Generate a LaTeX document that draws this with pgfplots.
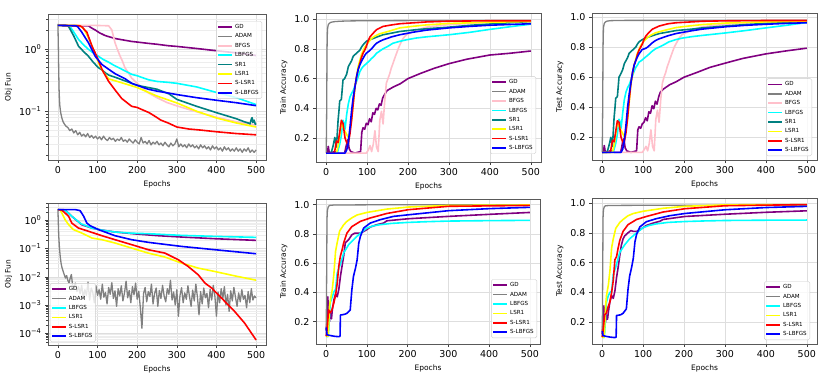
\documentclass[border=0pt]{standalone}
\usepackage{fontspec}
\setmainfont{DejaVu Sans}
\usepackage{pgfplots}
\pgfplotsset{compat=1.18}

\definecolor{cGD}{HTML}{800080}
\definecolor{cADAM}{HTML}{808080}
\definecolor{cBFGS}{HTML}{FFC0CB}
\definecolor{cLBFGS}{HTML}{00FFFF}
\definecolor{cSR1}{HTML}{008080}
\definecolor{cLSR1}{HTML}{FFFF00}
\definecolor{cSLSR1}{HTML}{FF0000}
\definecolor{cSLBFGS}{HTML}{0000FF}

\pgfplotsset{
  base/.style={
    scale only axis,
    xmin=-25, xmax=525,
    xtick={0,100,200,300,400,500},
    grid=major,
    major grid style={black!13, line width=0.5pt},
    minor grid style={black!7, line width=0.4pt},
    axis line style={black!65, line width=0.6pt},
    tick align=outside, tick pos=left,
    major tick length=3pt, minor tick length=1.8pt,
    tick style={black!75, line width=0.5pt},
    tick label style={font=\fontsize{9.5}{10}\selectfont},
    label style={font=\fontsize{7.5}{8}\selectfont},
    xlabel={Epochs},
    /pgf/number format/assume math mode=true,
    every axis plot/.append style={line width=1.6pt, line join=round},
    legend cell align=left,
    legend style={draw=black!20, rounded corners=1.5pt, fill=white, fill opacity=0.8,
      text opacity=1, font=\fontsize{5.6}{6}\selectfont, inner sep=1pt, row sep=0pt,
      nodes={inner sep=2.1pt, text height=4.2pt, text depth=1pt}},
    legend image code/.code={\draw[line width=1.6pt,#1] (0pt,0pt) -- (14pt,0pt);},
  },
  acc/.style={base, ytick={0.2,0.4,0.6,0.8,1.0},
    yticklabel style={/pgf/number format/fixed, /pgf/number format/fixed zerofill,
      /pgf/number format/precision=1}},
}

\begin{document}
\begin{tikzpicture}
\useasboundingbox (0pt,0pt) rectangle (831pt,-377pt);

% ---------------- top left: objective ----------------
\begin{axis}[base, at={(48pt,-14pt)}, anchor=north west, width=218pt, height=146pt,
  ymode=log, ymin=0.0166, ymax=3.6, ylabel={Obj Fun}, grid=both,
  ytick={0.1,1}, yticklabels={10\textsuperscript{−1},10\textsuperscript{0}},
  minor ytick={0.02,0.03,0.04,0.05,0.06,0.07,0.08,0.09,0.2,0.3,0.4,0.5,0.6,0.7,0.8,0.9,2,3},
  legend style={at={(0.982,0.952)}, anchor=north east}]
\addplot[cGD] coordinates {(0,2.37)(20,2.35)(50,2.33)(77,2.33)(85,2.15)(94,2.0)(105,1.8)(119,1.63)(130,1.55)(144,1.46)(160,1.40)(186,1.31)(200,1.28)(228,1.22)(250,1.18)(278,1.12)(300,1.09)(350,1.01)(400,0.93)(450,0.86)(500,0.78)};
\addlegendentry{GD}
\addplot[cADAM, line width=1.3pt] coordinates {(0,2.5)(1,1.2)(2,0.45)(3,0.22)(4,0.15)(5,0.12)(7,0.095)(10,0.078)(13,0.068)(16,0.063)(20,0.058)
(25,0.055)(30,0.049)(35,0.052)(40,0.045)(45,0.049)(50,0.042)(55,0.046)(60,0.040)(65,0.043)(70,0.039)(75,0.044)(80,0.038)(85,0.041)(90,0.037)(95,0.040)
(100,0.036)(105,0.039)(110,0.035)(115,0.040)(120,0.036)(125,0.034)(130,0.038)(135,0.035)(140,0.037)(145,0.033)(150,0.036)(155,0.034)(160,0.038)(165,0.033)(170,0.035)(175,0.032)(180,0.036)(185,0.033)(190,0.031)(195,0.035)
(200,0.032)(205,0.030)(210,0.038)(215,0.031)(220,0.033)(225,0.030)(230,0.034)(235,0.029)(240,0.032)(245,0.030)(250,0.033)(255,0.029)(260,0.031)(265,0.028)(270,0.032)(275,0.029)(280,0.027)(285,0.031)(290,0.028)(295,0.030)
(300,0.036)(305,0.027)(310,0.030)(315,0.027)(320,0.029)(325,0.026)(330,0.030)(335,0.027)(340,0.029)(345,0.026)(350,0.028)(355,0.025)(360,0.029)(365,0.026)(370,0.028)(375,0.025)(380,0.027)(385,0.024)(390,0.028)(395,0.025)
(400,0.027)(405,0.024)(410,0.026)(415,0.023)(420,0.027)(425,0.024)(430,0.026)(435,0.023)(440,0.025)(445,0.023)(450,0.026)(455,0.023)(460,0.025)(465,0.022)(470,0.025)(475,0.023)(480,0.026)(485,0.022)(490,0.024)(495,0.022)(500,0.024)};
\addlegendentry{ADAM}
\addplot[cBFGS] coordinates {(0,2.37)(50,2.37)(100,2.36)(128,2.33)(136,2.0)(144,1.25)(150,0.98)(157,0.76)(163,0.63)(169,0.50)(178,0.41)(186,0.34)(195,0.30)(203,0.27)(215,0.23)(228,0.197)(250,0.165)(275,0.138)(300,0.122)(350,0.098)(400,0.080)(450,0.068)(500,0.060)};
\addlegendentry{BFGS}
\addplot[cLBFGS] coordinates {(0,2.37)(25,2.35)(31,2.25)(40,1.85)(52,1.41)(65,1.15)(77,0.98)(90,0.85)(102,0.76)(115,0.67)(128,0.61)(140,0.55)(153,0.50)(170,0.44)(186,0.39)(200,0.37)(228,0.32)(250,0.30)(278,0.29)(300,0.28)(350,0.245)(400,0.20)(450,0.165)(500,0.128)};
\addlegendentry{LBFGS}
\addplot[cSR1] coordinates {(0,2.37)(25,2.35)(30,2.1)(40,1.6)(52,1.1)(65,0.90)(77,0.76)(90,0.60)(102,0.50)(111,0.46)(120,0.41)(128,0.38)(150,0.34)(200,0.26)(250,0.225)(280,0.19)(300,0.155)(350,0.12)(400,0.095)(450,0.076)(470,0.068)(480,0.065)(485,0.063)(488,0.075)(490,0.079)(492,0.066)(495,0.072)(498,0.062)(500,0.064)};
\addlegendentry{SR1}
\addplot[cLSR1] coordinates {(0,2.37)(55,2.35)(65,2.1)(75,1.6)(85,1.15)(95,0.78)(105,0.55)(115,0.42)(128,0.33)(150,0.30)(200,0.24)(250,0.175)(300,0.136)(350,0.10)(400,0.078)(450,0.065)(500,0.056)};
\addlegendentry{LSR1}
\addplot[cSLSR1] coordinates {(0,2.37)(55,2.33)(60,2.25)(73,1.85)(86,1.1)(98,0.76)(111,0.47)(120,0.37)(128,0.30)(144,0.22)(161,0.16)(186,0.12)(200,0.115)(211,0.107)(230,0.095)(245,0.083)(260,0.072)(278,0.065)(300,0.056)(330,0.052)(360,0.050)(400,0.047)(450,0.044)(500,0.042)};
\addlegendentry{S-LSR1}
\addplot[cSLBFGS] coordinates {(0,2.37)(45,2.33)(50,2.25)(60,1.85)(77,1.25)(94,0.76)(111,0.56)(128,0.47)(144,0.40)(170,0.33)(186,0.28)(200,0.26)(228,0.225)(250,0.21)(278,0.196)(300,0.185)(350,0.165)(400,0.150)(450,0.137)(500,0.123)};
\addlegendentry{S-LBFGS}
\end{axis}

% ---------------- bottom left: objective ----------------
\begin{axis}[base, at={(48pt,-203pt)}, anchor=north west, width=218pt, height=142pt,
  ymode=log, ymin=3.85e-5, ymax=4.1, ylabel={Obj Fun}, grid=both,
  ytick={1e-4,1e-3,1e-2,1e-1,1},
  yticklabels={10\textsuperscript{−4},10\textsuperscript{−3},10\textsuperscript{−2},10\textsuperscript{−1},10\textsuperscript{0}},
  minor ytick={5e-5,6e-5,7e-5,8e-5,9e-5,2e-4,3e-4,4e-4,5e-4,6e-4,7e-4,8e-4,9e-4,2e-3,3e-3,4e-3,5e-3,6e-3,7e-3,8e-3,9e-3,0.02,0.03,0.04,0.05,0.06,0.07,0.08,0.09,0.2,0.3,0.4,0.5,0.6,0.7,0.8,0.9,2,3,4},
  legend style={at={(0.009,0.021)}, anchor=south west}]
\addplot[cGD] coordinates {(0,2.39)(18,2.35)(35,1.39)(60,0.70)(86,0.53)(111,0.45)(144,0.385)(195,0.33)(253,0.285)(312,0.256)(396,0.223)(500,0.195)};
\addlegendentry{GD}
\addplot[cADAM, line width=1.3pt] coordinates {(0,2.5)(2,0.3)(4,0.1)(6,0.05)(8,0.03)(10,0.022)(13,0.016)(16,0.012)(19,0.009)(22,0.011)(25,0.0075)(28,0.006)(31,0.009)(34,0.012)(37,0.005)
(40,0.004)(44,0.006)(48,0.003)(52,0.0045)(56,0.0025)(60,0.005)(64,0.0018)(68,0.0035)(72,0.0022)(76,0.0065)(80,0.0015)(84,0.004)(88,0.0028)(92,0.0012)(96,0.0048)
(100,0.0022)(104,0.0035)(108,0.0016)(112,0.0055)(116,0.0019)(120,0.0028)(124,0.0011)(128,0.0042)(132,0.0024)(136,0.0062)(140,0.0017)(144,0.0032)(148,0.0009)(152,0.0038)(156,0.0021)(160,0.0048)(164,0.0014)(168,0.0027)(172,0.0070)(176,0.0018)(180,0.0033)(184,0.0012)(188,0.0045)(192,0.0023)(196,0.0060)
(200,0.0016)(204,0.0031)(208,0.0008)(212,0.00015)(216,0.0025)(220,0.0042)(224,0.0013)(228,0.0030)(232,0.0020)(236,0.0055)(240,0.0011)(244,0.0026)(248,0.0040)(252,0.0009)(256,0.0033)(260,0.0017)(264,0.0050)(268,0.0021)(272,0.0013)(276,0.0038)(280,0.0024)(284,0.0075)(288,0.0015)(292,0.0029)(296,0.0010)
(300,0.0035)(304,0.0004)(308,0.0022)(312,0.0041)(316,0.0012)(320,0.0027)(324,0.0016)(328,0.0048)(332,0.0020)(336,0.0009)(340,0.0034)(344,0.0014)(348,0.0055)(352,0.0019)(356,0.00045)(360,0.0030)(364,0.0011)(368,0.0040)(372,0.0018)(376,0.0026)(380,0.0008)(384,0.0036)(388,0.0015)(392,0.0050)(396,0.0021)
(400,0.0004)(404,0.0029)(408,0.0012)(412,0.0038)(416,0.0017)(420,0.0045)(424,0.0010)(428,0.0024)(432,0.0006)(436,0.0032)(440,0.0014)(444,0.0042)(448,0.0019)(452,0.0009)(456,0.0027)(460,0.0013)(464,0.0035)(468,0.0016)(472,0.0022)(476,0.0008)(480,0.0030)(484,0.0012)(488,0.0038)(492,0.0015)(496,0.0021)(500,0.0018)};
\addlegendentry{ADAM}
\addplot[cLBFGS] coordinates {(0,2.39)(18,2.3)(35,1.39)(58,0.76)(86,0.53)(111,0.45)(144,0.385)(186,0.35)(228,0.336)(312,0.293)(396,0.27)(500,0.249)};
\addlegendentry{LBFGS}
\addplot[cLSR1] coordinates {(0,2.39)(6,2.3)(14,1.39)(18,1.06)(27,0.70)(39,0.47)(60,0.355)(86,0.236)(111,0.206)(144,0.157)(186,0.104)(228,0.069)(270,0.05)(312,0.0306)(354,0.0203)(396,0.0154)(446,0.0108)(500,0.0076)};
\addlegendentry{LSR1}
\addplot[cSLSR1] coordinates {(0,2.39)(10,2.3)(27,1.39)(35,0.80)(52,0.53)(77,0.41)(111,0.285)(144,0.206)(195,0.126)(228,0.091)(270,0.069)(304,0.04)(329,0.023)(354,0.0118)(371,0.006)(388,0.004)(413,0.00175)(446,0.00059)(471,0.00023)(500,0.000058)};
\addlegendentry{S-LSR1}
\addplot[cSLBFGS] coordinates {(0,2.39)(44,2.39)(56,2.2)(65,1.39)(73,0.80)(81,0.65)(102,0.47)(144,0.285)(186,0.206)(228,0.166)(312,0.119)(396,0.091)(500,0.0656)};
\addlegendentry{S-LBFGS}
\end{axis}

% ---------------- top middle: train accuracy ----------------
\begin{axis}[acc, at={(316pt,-13pt)}, anchor=north west, width=225pt, height=149pt,
  ymin=0.04, ymax=1.04, ylabel={Train Accuracy},
  legend style={at={(0.978,0.054)}, anchor=south east}]
\addplot[cGD] coordinates {(0,0.10)(3,0.10)(5,0.145)(7,0.11)(10,0.10)(20,0.11)(30,0.10)(45,0.10)(48,0.14)(50,0.16)(53,0.19)(56,0.13)(60,0.11)(70,0.10)(84,0.11)(87,0.24)(90,0.27)(94,0.26)(98,0.30)(102,0.29)(106,0.33)(110,0.31)(114,0.37)(118,0.36)(122,0.40)(126,0.39)(130,0.43)(134,0.42)(138,0.47)(142,0.49)(149,0.52)(165,0.545)(181,0.565)(200,0.60)(230,0.634)(263,0.668)(300,0.70)(344,0.73)(400,0.758)(450,0.77)(500,0.785)};
\addlegendentry{GD}
\addplot[cADAM, line width=1.3pt] coordinates {(0,0.10)(1,0.35)(2,0.80)(3,0.93)(5,0.962)(8,0.972)(12,0.978)(20,0.982)(35,0.985)(60,0.987)(100,0.988)(200,0.989)(300,0.99)(400,0.99)(500,0.99)};
\addlegendentry{ADAM}
\addplot[cBFGS] coordinates {(0,0.10)(60,0.10)(98,0.10)(103,0.12)(107,0.15)(111,0.11)(115,0.16)(119,0.25)(123,0.14)(127,0.11)(131,0.32)(135,0.38)(139,0.295)(143,0.45)(147,0.57)(151,0.60)(155,0.63)(159,0.67)(163,0.70)(168,0.74)(172,0.77)(176,0.80)(180,0.826)(184,0.85)(188,0.87)(196,0.894)(208,0.91)(220,0.925)(245,0.945)(300,0.962)(400,0.978)(500,0.985)};
\addlegendentry{BFGS}
\addplot[cLBFGS] coordinates {(0,0.10)(20,0.10)(28,0.11)(33,0.16)(37,0.22)(41,0.32)(44,0.30)(46,0.26)(50,0.36)(54,0.43)(58,0.476)(62,0.50)(66,0.52)(70,0.55)(74,0.58)(78,0.61)(82,0.645)(86,0.665)(90,0.68)(98,0.70)(104,0.715)(111,0.735)(117,0.75)(123,0.77)(131,0.785)(139,0.80)(150,0.815)(163,0.837)(180,0.85)(196,0.86)(220,0.872)(245,0.88)(300,0.894)(350,0.91)(400,0.93)(450,0.948)(500,0.965)};
\addlegendentry{LBFGS}
\addplot[cSR1] coordinates {(0,0.10)(10,0.10)(13,0.11)(17,0.15)(21,0.205)(25,0.14)(29,0.32)(31,0.38)(33,0.45)(37,0.46)(41,0.59)(45,0.60)(50,0.63)(54,0.68)(58,0.70)(62,0.72)(66,0.75)(70,0.76)(74,0.77)(78,0.78)(82,0.79)(86,0.81)(90,0.826)(98,0.85)(104,0.858)(111,0.865)(125,0.88)(139,0.894)(160,0.905)(180,0.916)(220,0.928)(245,0.934)(300,0.945)(350,0.957)(400,0.966)(450,0.975)(500,0.983)};
\addlegendentry{SR1}
\addplot[cLSR1] coordinates {(0,0.10)(25,0.10)(30,0.16)(37,0.30)(45,0.25)(55,0.20)(62,0.32)(70,0.54)(78,0.68)(86,0.76)(94,0.81)(102,0.84)(111,0.87)(119,0.885)(130,0.90)(150,0.915)(180,0.94)(210,0.95)(245,0.96)(300,0.97)(400,0.978)(500,0.983)};
\addlegendentry{LSR1}
\addplot[cSLSR1] coordinates {(0,0.10)(20,0.10)(25,0.18)(29,0.17)(33,0.24)(37,0.32)(41,0.30)(46,0.20)(50,0.17)(54,0.16)(58,0.23)(62,0.32)(66,0.43)(70,0.54)(74,0.61)(78,0.66)(82,0.70)(86,0.74)(90,0.77)(94,0.79)(98,0.815)(102,0.85)(107,0.88)(115,0.905)(123,0.928)(139,0.95)(160,0.96)(180,0.968)(245,0.98)(300,0.985)(400,0.988)(500,0.988)};
\addlegendentry{S-LSR1}
\addplot[cSLBFGS] coordinates {(0,0.10)(46,0.10)(50,0.12)(54,0.17)(58,0.27)(62,0.385)(66,0.475)(70,0.54)(74,0.61)(78,0.66)(82,0.69)(86,0.715)(90,0.735)(94,0.755)(98,0.77)(105,0.785)(111,0.80)(117,0.82)(123,0.837)(131,0.85)(139,0.86)(160,0.88)(180,0.894)(210,0.91)(245,0.925)(300,0.94)(350,0.95)(400,0.958)(450,0.963)(500,0.968)};
\addlegendentry{S-LBFGS}
\end{axis}

% ---------------- top right: test accuracy ----------------
\begin{axis}[acc, at={(592pt,-13pt)}, anchor=north west, width=225pt, height=147pt,
  ymin=0.049, ymax=1.027, ylabel={Test Accuracy},
  legend style={at={(0.978,0.027)}, anchor=south east}]
\addplot[cGD] coordinates {(0,0.10)(3,0.10)(5,0.145)(7,0.11)(10,0.10)(20,0.11)(30,0.10)(45,0.10)(48,0.14)(50,0.17)(53,0.19)(56,0.13)(60,0.11)(70,0.10)(84,0.11)(87,0.25)(90,0.27)(94,0.26)(98,0.29)(102,0.30)(106,0.33)(110,0.31)(114,0.37)(118,0.36)(122,0.41)(126,0.39)(130,0.44)(134,0.42)(138,0.47)(142,0.50)(149,0.52)(165,0.55)(181,0.57)(200,0.60)(230,0.63)(263,0.665)(300,0.693)(344,0.725)(400,0.755)(450,0.775)(500,0.793)};
\addlegendentry{GD}
\addplot[cADAM, line width=1.3pt] coordinates {(0,0.10)(1,0.35)(2,0.80)(3,0.93)(5,0.958)(8,0.968)(12,0.973)(20,0.976)(35,0.977)(60,0.978)(100,0.978)(200,0.978)(300,0.978)(400,0.978)(500,0.978)};
\addlegendentry{ADAM}
\addplot[cBFGS] coordinates {(0,0.10)(60,0.10)(98,0.10)(103,0.12)(107,0.14)(111,0.11)(115,0.16)(119,0.25)(123,0.14)(127,0.11)(131,0.32)(135,0.38)(139,0.30)(143,0.45)(147,0.56)(151,0.60)(155,0.63)(159,0.67)(163,0.70)(168,0.74)(172,0.77)(176,0.80)(180,0.82)(184,0.84)(188,0.86)(196,0.885)(208,0.90)(220,0.915)(245,0.935)(300,0.952)(400,0.968)(500,0.975)};
\addlegendentry{BFGS}
\addplot[cLBFGS] coordinates {(0,0.10)(20,0.10)(28,0.11)(33,0.16)(37,0.22)(41,0.32)(44,0.30)(46,0.26)(50,0.36)(54,0.45)(58,0.50)(62,0.53)(66,0.55)(70,0.58)(74,0.61)(78,0.64)(82,0.665)(86,0.68)(90,0.70)(98,0.715)(104,0.73)(111,0.745)(117,0.76)(123,0.775)(131,0.79)(139,0.80)(150,0.815)(163,0.835)(180,0.85)(196,0.86)(220,0.87)(245,0.878)(300,0.894)(350,0.91)(400,0.928)(450,0.945)(500,0.964)};
\addlegendentry{LBFGS}
\addplot[cSR1] coordinates {(0,0.10)(10,0.10)(13,0.11)(17,0.15)(21,0.20)(25,0.14)(29,0.33)(31,0.39)(33,0.46)(37,0.47)(41,0.60)(45,0.62)(50,0.65)(54,0.69)(58,0.71)(62,0.73)(66,0.76)(70,0.77)(74,0.78)(78,0.79)(82,0.80)(86,0.82)(90,0.835)(98,0.85)(104,0.858)(111,0.865)(125,0.878)(139,0.89)(160,0.90)(180,0.91)(220,0.92)(245,0.928)(300,0.94)(350,0.95)(400,0.958)(450,0.966)(500,0.972)};
\addlegendentry{SR1}
\addplot[cLSR1] coordinates {(0,0.10)(25,0.10)(30,0.16)(37,0.30)(45,0.25)(55,0.20)(62,0.32)(70,0.55)(78,0.68)(86,0.76)(94,0.81)(102,0.84)(111,0.865)(119,0.88)(130,0.895)(150,0.91)(180,0.93)(210,0.94)(245,0.95)(300,0.96)(400,0.968)(500,0.972)};
\addlegendentry{LSR1}
\addplot[cSLSR1] coordinates {(0,0.10)(20,0.10)(25,0.18)(29,0.17)(33,0.24)(37,0.31)(41,0.30)(46,0.20)(50,0.17)(54,0.17)(58,0.23)(62,0.33)(66,0.45)(70,0.56)(74,0.63)(78,0.68)(82,0.71)(86,0.75)(90,0.78)(94,0.80)(98,0.82)(102,0.85)(107,0.875)(115,0.90)(123,0.92)(139,0.94)(160,0.955)(180,0.962)(245,0.972)(300,0.975)(400,0.977)(500,0.977)};
\addlegendentry{S-LSR1}
\addplot[cSLBFGS] coordinates {(0,0.10)(46,0.10)(50,0.12)(54,0.18)(58,0.28)(62,0.40)(66,0.49)(70,0.56)(74,0.63)(78,0.68)(82,0.71)(86,0.735)(90,0.755)(94,0.77)(98,0.785)(105,0.79)(111,0.80)(117,0.815)(123,0.83)(131,0.845)(139,0.855)(160,0.875)(180,0.89)(210,0.905)(245,0.92)(300,0.935)(350,0.945)(400,0.952)(450,0.958)(500,0.962)};
\addlegendentry{S-LBFGS}
\end{axis}

% ---------------- bottom middle: train accuracy ----------------
\begin{axis}[acc, at={(316pt,-199pt)}, anchor=north west, width=224pt, height=145pt,
  ymin=0.047, ymax=1.039, ylabel={Train Accuracy},
  legend style={at={(0.987,0.041)}, anchor=south east}]
\addplot[cGD] coordinates {(0,0.14)(2,0.20)(4,0.37)(6,0.23)(8,0.20)(10,0.26)(13,0.22)(15,0.28)(19,0.35)(23,0.39)(27,0.37)(31,0.42)(35,0.51)(39,0.58)(43,0.65)(47,0.74)(51,0.75)(55,0.76)(63,0.794)(70,0.805)(76,0.806)(84,0.806)(92,0.817)(100,0.83)(108,0.847)(124,0.863)(141,0.874)(149,0.89)(202,0.904)(300,0.92)(400,0.934)(500,0.947)};
\addlegendentry{GD}
\addplot[cADAM, line width=1.3pt] coordinates {(0,0.10)(1,0.45)(2,0.90)(3,0.96)(5,0.985)(8,0.995)(20,0.998)(100,0.999)(500,1.0)};
\addlegendentry{ADAM}
\addplot[cLBFGS] coordinates {(0,0.10)(4,0.097)(6,0.13)(10,0.33)(15,0.37)(19,0.405)(23,0.42)(27,0.53)(33,0.58)(38,0.62)(43,0.67)(55,0.726)(67,0.76)(84,0.806)(100,0.84)(115,0.855)(132,0.863)(160,0.872)(202,0.879)(250,0.884)(300,0.888)(400,0.891)(500,0.893)};
\addlegendentry{LBFGS}
\addplot[cLSR1] coordinates {(0,0.10)(5,0.10)(8,0.30)(10.5,0.35)(15,0.42)(19,0.53)(23,0.68)(27,0.74)(33,0.82)(43,0.863)(51,0.886)(63,0.91)(76,0.93)(100,0.947)(149,0.97)(202,0.984)(300,0.995)(500,0.998)};
\addlegendentry{LSR1}
\addplot[cSLSR1] coordinates {(0,0.10)(2,0.14)(6,0.28)(10,0.26)(14,0.28)(19,0.33)(23,0.38)(27,0.46)(31,0.58)(35,0.65)(39,0.69)(43,0.74)(51,0.806)(63,0.85)(84,0.886)(108,0.909)(149,0.94)(202,0.966)(300,0.989)(500,0.995)};
\addlegendentry{S-LSR1}
\addplot[cSLBFGS] coordinates {(0,0.16)(2,0.11)(10,0.105)(20,0.10)(31,0.097)(34,0.10)(35,0.245)(45,0.25)(51,0.257)(59,0.28)(63,0.417)(67,0.51)(72,0.566)(76,0.623)(80,0.737)(84,0.783)(92,0.84)(108,0.874)(132,0.897)(165,0.92)(202,0.931)(300,0.959)(400,0.973)(500,0.982)};
\addlegendentry{S-LBFGS}
\end{axis}

% ---------------- bottom right: test accuracy ----------------
\begin{axis}[acc, at={(592pt,-198pt)}, anchor=north west, width=225pt, height=146pt,
  ymin=0.054, ymax=1.034, ylabel={Test Accuracy},
  legend style={at={(0.969,0.027)}, anchor=south east}]
\addplot[cGD] coordinates {(0,0.12)(2,0.20)(4,0.31)(6,0.22)(8,0.20)(10,0.25)(13,0.22)(15,0.27)(19,0.34)(23,0.38)(27,0.36)(31,0.41)(35,0.50)(39,0.57)(43,0.65)(47,0.72)(51,0.76)(55,0.78)(63,0.80)(70,0.815)(76,0.81)(84,0.81)(92,0.82)(100,0.835)(108,0.85)(124,0.865)(141,0.878)(149,0.89)(202,0.91)(300,0.925)(400,0.938)(500,0.948)};
\addlegendentry{GD}
\addplot[cADAM, line width=1.3pt] coordinates {(0,0.10)(1,0.45)(2,0.90)(3,0.955)(5,0.975)(8,0.982)(20,0.984)(100,0.985)(500,0.985)};
\addlegendentry{ADAM}
\addplot[cLBFGS] coordinates {(0,0.10)(4,0.097)(6,0.13)(10,0.33)(15,0.38)(19,0.40)(23,0.41)(27,0.52)(33,0.57)(38,0.62)(43,0.67)(55,0.72)(67,0.76)(84,0.80)(100,0.835)(115,0.85)(132,0.86)(160,0.87)(202,0.876)(250,0.88)(300,0.883)(400,0.885)(500,0.886)};
\addlegendentry{LBFGS}
\addplot[cLSR1] coordinates {(0,0.10)(5,0.10)(8,0.30)(10.5,0.38)(15,0.45)(19,0.55)(23,0.70)(27,0.76)(33,0.83)(43,0.87)(51,0.89)(63,0.915)(76,0.93)(100,0.945)(149,0.965)(202,0.978)(300,0.988)(500,0.99)};
\addlegendentry{LSR1}
\addplot[cSLSR1] coordinates {(0,0.10)(2,0.14)(6,0.25)(10,0.26)(14,0.30)(19,0.34)(23,0.40)(27,0.48)(31,0.62)(35,0.64)(39,0.70)(43,0.75)(51,0.81)(63,0.855)(84,0.89)(108,0.91)(149,0.94)(202,0.962)(300,0.982)(500,0.99)};
\addlegendentry{S-LSR1}
\addplot[cSLBFGS] coordinates {(0,0.14)(2,0.11)(10,0.105)(20,0.10)(31,0.097)(34,0.10)(35,0.245)(45,0.25)(51,0.26)(59,0.29)(63,0.42)(67,0.51)(72,0.57)(76,0.63)(80,0.74)(84,0.79)(92,0.84)(108,0.875)(132,0.895)(165,0.915)(202,0.93)(300,0.955)(400,0.97)(500,0.978)};
\addlegendentry{S-LBFGS}
\end{axis}
\end{tikzpicture}
\end{document}
